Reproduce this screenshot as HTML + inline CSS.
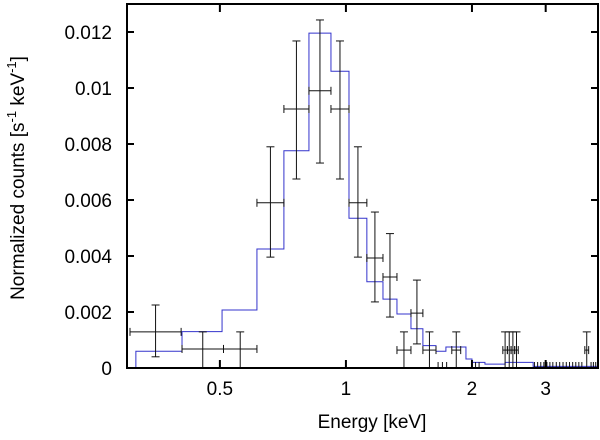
<!DOCTYPE html>
<html><head><meta charset="utf-8"><style>
html,body{margin:0;padding:0;background:#fff;}
svg text{font-family:"Liberation Sans",sans-serif;fill:#000;}
</style></head><body>
<svg id="chart" width="600" height="435" viewBox="0 0 600 435" xmlns="http://www.w3.org/2000/svg">
<g id="g"></g>
</svg>
<script>
const yTicks=[0,0.002,0.004,0.006,0.008,0.01,0.012];
const yTickLabels=["0","0.002","0.004","0.006","0.008","0.01","0.012"];
const xTicks=[0.5,1,2,3];
const xTickLabels=["0.5","1","2","3"];
const modelEdges=[0.315,0.406,0.506,0.613,0.711,0.816,0.921,1.017,1.122,1.226,1.324,1.43,1.527,1.641,1.733,1.83,1.935,2.0,2.148,2.40,2.80,4.0];
const modelValues=[0.0006,0.0013,0.00207,0.00425,0.00776,0.01196,0.0106,0.00535,0.00308,0.00246,0.00193,0.0014,0.0008,0.0006,0.00075,0.00075,0.00032,0.0002,0.00014,0.0002,0.00006];
const ptLo=[0.305,0.406,0.51,0.613,0.711,0.816,0.921,1.017,1.122,1.226,1.324,1.43,1.527,1.79,2.37,2.43,2.48,2.53,3.72];
const ptHi=[0.404,0.51,0.613,0.711,0.816,0.921,1.017,1.122,1.226,1.324,1.43,1.527,1.641,1.88,2.43,2.48,2.53,2.58,3.8];
const ptVal=[0.00129,0.00068,0.00068,0.0059,0.00925,0.0099,0.00925,0.0059,0.00393,0.00325,0.00064,0.00196,0.00064,0.00064,0.00064,0.00064,0.00064,0.00064,0.00064];
const ptErrLo=[0.0004,0,0,0.00396,0.00675,0.00732,0.00675,0.00396,0.00236,0.00182,0,0.00086,0,0,0,0,0,0,0];
const ptErrHi=[0.00225,0.00129,0.00129,0.0079,0.01168,0.01243,0.01168,0.0079,0.00557,0.0048,0.00129,0.00314,0.00129,0.00129,0.00129,0.00129,0.00129,0.00129,0.00129];
const zeroPts=[1.66,1.70,1.74,2.0,2.04,2.08,2.82,2.87,2.92,2.97,3.02,3.07,3.12,3.18,3.24,3.30,3.36,3.42,3.48,3.54,3.60,3.66,3.85,3.9,3.95];

const L=127,R=598,T=4,B=368;
const xMin=0.3,xMax=4.0;
const X=e=>L+(Math.log10(e)-Math.log10(xMin))/(Math.log10(xMax)-Math.log10(xMin))*(R-L);
const Y=v=>B-v/0.012*(B-32);
const NS="http://www.w3.org/2000/svg";
const g=document.getElementById('g');
function mk(t,a,parent){const el=document.createElementNS(NS,t);for(const k in a)el.setAttribute(k,a[k]);(parent||g).appendChild(el);return el;}
function line(x1,y1,x2,y2,c,w,p){return mk('line',{x1,y1,x2,y2,stroke:c,'stroke-width':w||1},p);}

// model
let d='M'+X(modelEdges[0])+','+B;
for(let i=0;i<modelValues.length;i++){
  d+=' L'+X(modelEdges[i])+','+Y(modelValues[i])+' L'+X(modelEdges[i+1])+','+Y(modelValues[i]);
}
const mp=mk('path',{d,fill:'none',stroke:'#3333cc','stroke-width':1});



// data points
const dg=mk('g',{});


for(let i=0;i<ptVal.length;i++){
  const pg=mk('g',{},dg);
  
  
  const c=X(Math.sqrt(ptLo[i]*ptHi[i])),y=Y(ptVal[i]);
  const x1=X(ptLo[i]),x2=X(ptHi[i]);
  line(x1,y,x2,y,'#111',1,pg);
  line(x1,y-4,x1,y+4,'#111',1,pg);line(x2,y-4,x2,y+4,'#111',1,pg);
  const yt=Y(ptErrHi[i]),yb=Y(ptErrLo[i]);
  line(c,yt,c,yb,'#111',1,pg);
  line(c-4,yt,c+4,yt,'#111',1,pg);
  if(ptErrLo[i]>0)line(c-4,yb,c+4,yb,'#111',1,pg);
}
for(let i=0;i<zeroPts.length;i++){
  const zx=X(zeroPts[i]);
  const z=line(zx,B-6,zx,B,'#111',1,dg);
  
  
}

// frame
const fr=mk('rect',{x:L,y:T,width:R-L,height:B-T,fill:'none',stroke:'#000','stroke-width':2});



for(let i=0;i<yTicks.length;i++){
  const y=Y(yTicks[i]);
  line(L,y,L+7,y,'#000',2);line(R-7,y,R,y,'#000',2);
  const t=mk('text',{x:L-15,y:y+7,'text-anchor':'end','font-size':19});
  t.textContent=yTickLabels[i];
  
  
}
for(let i=0;i<xTicks.length;i++){
  const x=X(xTicks[i]);
  line(x,B-8,x,B,'#000',2);line(x,T,x,T+8,'#000',2);
  const t=mk('text',{x:x,y:B+27,'text-anchor':'middle','font-size':19});
  t.textContent=xTickLabels[i];
  
  
}
const xt=mk('text',{x:372,y:428,'text-anchor':'middle','font-size':19});
xt.textContent='Energy [keV]';


const yt=mk('text',{x:0,y:0,'text-anchor':'middle','font-size':19,transform:'translate(24,178) rotate(-90)'});
yt.innerHTML='Normalized counts [s<tspan dy="-8" font-size="13">-1</tspan><tspan dy="8"> keV</tspan><tspan dy="-8" font-size="13">-1</tspan><tspan dy="8">]</tspan>';


</script>
</body></html>
